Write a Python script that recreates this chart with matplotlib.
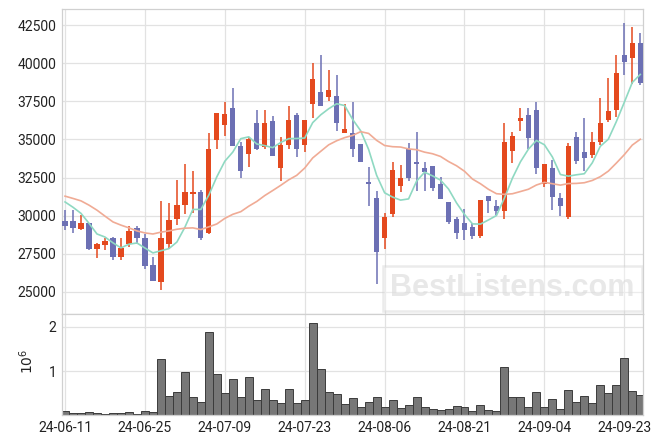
import numpy as np
import pandas as pd
import matplotlib
matplotlib.use("Agg")
import matplotlib.pyplot as plt
from matplotlib.ticker import FixedLocator, FuncFormatter

plt.rcParams['font.family'] = ['Roboto', 'DejaVu Sans']

# ---- data ----
holidays = ['2024-08-15', '2024-09-16', '2024-09-17', '2024-09-18']
dates = [d for d in pd.bdate_range('2024-06-11', '2024-09-25')
         if d.strftime('%Y-%m-%d') not in holidays]

opens = [29650, 29650, 29150, 29500, 27800, 28100, 28550, 27300, 28150, 29200,
         28550, 26750, 25650, 28150, 29800, 30700, 31450, 31550, 28850, 34950,
         35950, 37050, 34600, 34050, 36100, 34500, 36200, 33150, 34650, 36600,
         34650, 37300, 38100, 37750, 37850, 35450, 35450, 34700, 32200, 31150,
         28550, 30100, 31950, 34400, 33500, 33150, 33250, 32050, 30900, 29750,
         29550, 29250, 28700, 31300, 30650, 30300, 34250, 36200, 36600, 36900,
         32050, 33100, 31150, 29900, 35150, 34200, 33950, 34800, 36250, 36900,
         40550, 40350, 41300]
highs = [30350, 30350, 30050, 29550, 28200, 28550, 28600, 28550, 29300, 29350,
         28800, 27300, 30950, 30800, 32350, 33400, 32900, 31700, 35400, 36750,
         37450, 38400, 34800, 35150, 36950, 36900, 36550, 35150, 37200, 36700,
         36300, 40000, 40550, 39550, 39250, 37300, 37450, 34700, 33200, 31650,
         30150, 33550, 33350, 34750, 35500, 33500, 33250, 32550, 30900, 29900,
         30450, 29550, 31050, 31300, 31050, 36050, 35500, 37050, 37050, 37450,
         33400, 33650, 31500, 34750, 35500, 36400, 35500, 37700, 39050, 40550,
         42650, 42350, 42000]
lows = [29050, 28850, 29050, 27750, 27250, 27750, 27100, 27100, 27950, 28150,
        26500, 25700, 25100, 27800, 29400, 30100, 30200, 28400, 28800, 34400,
        35200, 34550, 32450, 33200, 34300, 34400, 33900, 32300, 34400, 33850,
        34150, 36400, 37200, 37500, 35550, 35450, 33850, 33500, 30650, 25550,
        27800, 29900, 31550, 32250, 31650, 31600, 31650, 31100, 29450, 28450,
        28400, 28450, 28550, 30150, 30050, 29800, 33450, 35550, 34350, 32750,
        31850, 30350, 29950, 29800, 33400, 32900, 33750, 34650, 36150, 36450,
        39200, 38650, 38550]
closes = [29350, 29200, 29500, 27800, 28150, 28350, 27300, 27850, 29000, 28550,
          26700, 25700, 28550, 29700, 30700, 31550, 31550, 28550, 34400, 36700,
          36650, 34550, 32950, 35000, 34350, 36100, 33900, 34650, 36250, 34400,
          36250, 38950, 37200, 38250, 36050, 35650, 34400, 33500, 32100, 27600,
          29900, 33000, 32500, 32500, 33400, 32850, 31800, 31100, 29600, 28850,
          29050, 28700, 31050, 30950, 30300, 34800, 35200, 36400, 35100, 33150,
          33400, 31200, 30650, 34550, 33600, 33750, 34800, 36050, 36850, 39350,
          40100, 41300, 38700]
volumes = [90000, 50000, 50000, 70000, 50000, 30000, 50000, 50000, 75000, 30000,
           100000, 75000, 1260000, 435000, 520000, 970000, 410000, 300000, 1870000, 925000,
           500000, 810000, 410000, 860000, 340000, 590000, 340000, 280000, 590000, 270000,
           340000, 2080000, 1040000, 520000, 470000, 250000, 380000, 180000, 290000, 410000,
           180000, 340000, 160000, 230000, 410000, 180000, 135000, 110000, 135000, 200000,
           180000, 90000, 225000, 110000, 90000, 1080000, 410000, 410000, 180000, 520000,
           180000, 360000, 135000, 565000, 290000, 430000, 270000, 680000, 500000, 680000,
           1290000, 540000, 450000]
# moving-average values before a full window of closes is available
ma5_head = [30900, 30550, 30150, 29500]
ma20_head = [31280, 31130, 30970, 30690, 30360, 29970, 29590, 29380, 29200, 29000,
             28870, 28800, 28920, 29000, 29110, 29180, 29200, 29090, 29270]
price_ticks = [25000, 27500, 30000, 32500, 35000, 37500, 40000, 42500]
volume_ticks = [1000000, 2000000]
watermark = 'BestListens.com'

# ---- derived ----
o = np.array(opens, float); h = np.array(highs, float)
l = np.array(lows, float); c = np.array(closes, float)
v = np.array(volumes, float)
n = len(c)
x = np.arange(n)
cs = pd.Series(c)
ma5 = cs.rolling(5).mean().to_numpy()
ma5[:len(ma5_head)] = ma5_head
ma20 = cs.rolling(20).mean().to_numpy()
ma20[:len(ma20_head)] = ma20_head

UP = '#E4491E'
DOWN = '#6C70B4'
GRID = '#e2e2e2'
SPINE = '#d0d0d0'

W, H = 663, 444
fig = plt.figure(figsize=(W / 100, H / 100), dpi=100)
left = 62 / W
width = (643.3 - 62) / W
ax = fig.add_axes([left, 1 - 313.6 / H, width, (313.6 - 9.3) / H])
axv = fig.add_axes([left, 1 - 415.3 / H, width, (415.3 - 314.3) / H], sharex=ax)

for a in (ax, axv):
    a.set_facecolor('white')
    a.grid(True, color=GRID, linewidth=0.9)
    a.set_axisbelow(True)
    for s in a.spines.values():
        s.set_color(SPINE)
        s.set_linewidth(0.9)
    a.tick_params(length=0, pad=4, labelsize=10, colors='#222222')

# candles
up = c >= o
colors = np.where(up, UP, DOWN)
ax.vlines(x, l, h, colors=colors, linewidth=1.1, zorder=2)
body_lo = np.minimum(o, c)
body_h = np.maximum(np.abs(c - o), 60)
ax.bar(x, body_h, bottom=body_lo, width=0.66, color=colors, linewidth=0, zorder=3)

# moving averages
ax.plot(x, ma5, color='#8fd9c2', linewidth=1.2, zorder=4)
ax.plot(x, ma20, color='#f0ab95', linewidth=1.2, zorder=4)

ax.set_ylim(23580, 43530)
ax.set_xlim(-0.38, n - 1 + 0.38)
ax.yaxis.set_major_locator(FixedLocator(price_ticks))
ax.yaxis.set_major_formatter(FuncFormatter(lambda val, p: f'{int(val)}'))
ax.tick_params(axis='x', labelbottom=False)

# watermark
ax.text(0.775, 0.083, watermark, transform=ax.transAxes, ha='center', va='center',
        fontsize=22, fontweight='bold', family=['Liberation Sans', 'DejaVu Sans'],
        color='#dadada', alpha=0.6, zorder=1,
        bbox=dict(boxstyle='square,pad=0.25', facecolor='white', alpha=0.35,
                  edgecolor='#c8c8c8', linewidth=1.8))

# volume
axv.bar(x, v, width=1.0, color='#777777', edgecolor='#3c3c3c', linewidth=0.7, zorder=2)
axv.set_ylim(0, 2.28e6)
axv.yaxis.set_major_locator(FixedLocator(volume_ticks))
axv.yaxis.set_major_formatter(FuncFormatter(lambda val, p: f'{val / 1e6:g}'))
axv.set_ylabel(r'$10^6$', fontsize=10, color='#222222', labelpad=5)
axv.yaxis.set_label_coords(-0.045, 0.53)

tick_pos = list(range(0, n, 10))
axv.xaxis.set_major_locator(FixedLocator(tick_pos))
axv.xaxis.set_major_formatter(FuncFormatter(
    lambda val, p: dates[int(round(val))].strftime('%y-%m-%d') if 0 <= int(round(val)) < n else ''))

fig.savefig('out.png', dpi=100, facecolor='white')
